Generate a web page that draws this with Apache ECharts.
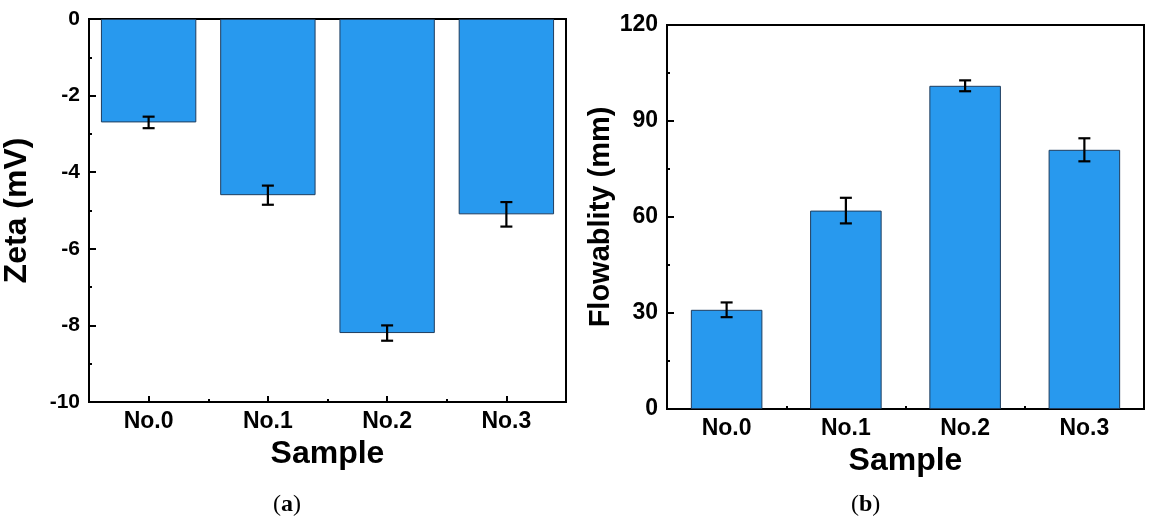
<!DOCTYPE html>
<html><head><meta charset="utf-8">
<script src="https://cdn.jsdelivr.net/npm/echarts@6/dist/echarts.min.js"></script>
<style>html,body{margin:0;padding:0;background:#fff}#c{width:1153px;height:526px}</style>
</head><body><div id="c"></div>
<script>
const categories = ['No.0','No.1','No.2','No.3'];
const zetaValues = [-2.7, -4.6, -8.2, -5.1];
const zetaErrors = [0.15, 0.25, 0.2, 0.32];
const flowValues = [31, 62, 101, 81];
const flowErrors = [2.3, 4.0, 1.7, 3.6];
const zetaTicks = [0, -2, -4, -6, -8, -10];
const flowTicks = [0, 30, 60, 90, 120];

const font = '"Liberation Sans", Arial, sans-serif';
const barColor = '#2899ee';

function errItem() {
  return function (params, api) {
    const i = api.value(0);
    const lo = api.coord([i, api.value(1)]);
    const hi = api.coord([i, api.value(2)]);
    const hw = 6;
    const st = { stroke: '#000', lineWidth: 2.2 };
    return { type: 'group', children: [
      { type: 'line', shape: { x1: lo[0], y1: lo[1], x2: hi[0], y2: hi[1] }, style: st },
      { type: 'line', shape: { x1: lo[0]-hw, y1: lo[1], x2: lo[0]+hw, y2: lo[1] }, style: st },
      { type: 'line', shape: { x1: hi[0]-hw, y1: hi[1], x2: hi[0]+hw, y2: hi[1] }, style: st }
    ]};
  };
}
function errData(vals, errs) { return vals.map((v, i) => [i, v - errs[i], v + errs[i]]); }

const axLine = { show: true, onZero: false, lineStyle: { color: '#000', width: 2 } };
const tickStyle = { color: '#000', width: 2 };

function catAxis(gi, gap) {
  return { type: 'category', gridIndex: gi, data: categories, position: 'bottom',
    axisLine: axLine,
    axisTick: { show: true, inside: true, alignWithLabel: true, length: 6, lineStyle: tickStyle },
    axisLabel: { color: '#000', fontFamily: font, fontWeight: 'bold', fontSize: 23, margin: 8 },
    name: 'Sample', nameLocation: 'middle', nameGap: gap,
    nameTextStyle: { color: '#000', fontFamily: font, fontWeight: 'bold', fontSize: 32 } };
}
function boundAxis(gi) {
  return { type: 'value', gridIndex: gi, min: 0, max: 4, interval: 1, position: 'bottom',
    axisLine: { show: false }, splitLine: { show: false }, axisLabel: { show: false },
    axisTick: { show: true, inside: true, length: 3, lineStyle: tickStyle } };
}
function hiddenY(gi) {
  return { type: 'value', gridIndex: gi, min: 0, max: 1, show: false };
}

const option = {
  animation: false,
  grid: [
    { left: 89, top: 19, width: 477, height: 383, show: true, borderColor: '#000', borderWidth: 2 },
    { left: 667, top: 25, width: 477, height: 384, show: true, borderColor: '#000', borderWidth: 2 },
    { left: 89, top: 19, width: 477, height: 383 },
    { left: 667, top: 25, width: 477, height: 384 }
  ],
  xAxis: [catAxis(0, 36), catAxis(1, 35), boundAxis(2), boundAxis(3)],
  yAxis: [
    { type: 'value', gridIndex: 0, min: zetaTicks[zetaTicks.length-1], max: zetaTicks[0], interval: 2,
      axisLine: axLine, splitLine: { show: false },
      axisTick: { show: true, inside: true, length: 7, lineStyle: tickStyle },
      minorTick: { show: true, splitNumber: 2, length: 3, lineStyle: tickStyle },
      axisLabel: { color: '#000', fontFamily: font, fontWeight: 'bold', fontSize: 21, margin: 9 },
      name: 'Zeta (mV)', nameLocation: 'middle', nameGap: 56,
      nameTextStyle: { color: '#000', fontFamily: font, fontWeight: 'bold', fontSize: 32 } },
    { type: 'value', gridIndex: 1, min: flowTicks[0], max: flowTicks[flowTicks.length-1], interval: 30,
      axisLine: axLine, splitLine: { show: false },
      axisTick: { show: true, inside: true, length: 7, lineStyle: tickStyle },
      minorTick: { show: true, splitNumber: 2, length: 3, lineStyle: tickStyle },
      axisLabel: { color: '#000', fontFamily: font, fontWeight: 'bold', fontSize: 23, margin: 9 },
      name: 'Flowablity (mm)', nameLocation: 'middle', nameGap: 46,
      nameTextStyle: { color: '#000', fontFamily: font, fontWeight: 'bold', fontSize: 29 } },
    hiddenY(2), hiddenY(3)
  ],
  series: [
    { type: 'bar', xAxisIndex: 0, yAxisIndex: 0, data: zetaValues, barCategoryGap: '20%',
      itemStyle: { color: barColor, borderColor: '#1f3d5e', borderWidth: 1 } },
    { type: 'custom', xAxisIndex: 0, yAxisIndex: 0, data: errData(zetaValues, zetaErrors),
      renderItem: errItem(), encode: { x: 0, y: [1, 2] }, z: 10 },
    { type: 'bar', xAxisIndex: 1, yAxisIndex: 1, data: flowValues, barCategoryGap: '40%',
      itemStyle: { color: barColor, borderColor: '#1f3d5e', borderWidth: 1 } },
    { type: 'custom', xAxisIndex: 1, yAxisIndex: 1, data: errData(flowValues, flowErrors),
      renderItem: errItem(), encode: { x: 0, y: [1, 2] }, z: 10 }
  ],
  graphic: [
    { type: 'text', left: 273, top: 493, style: { rich: { p: { fontFamily: '"Liberation Serif", serif', fontSize: 24, fill: '#000' }, b: { fontFamily: '"Liberation Serif", serif', fontSize: 24, fontWeight: 'bold', fill: '#000' } }, text: '{p|(}{b|a}{p|)}' } },
    { type: 'text', left: 851, top: 493, style: { rich: { p: { fontFamily: '"Liberation Serif", serif', fontSize: 24, fill: '#000' }, b: { fontFamily: '"Liberation Serif", serif', fontSize: 24, fontWeight: 'bold', fill: '#000' } }, text: '{p|(}{b|b}{p|)}' } }
  ]
};
echarts.init(document.getElementById('c')).setOption(option);
</script></body></html>
